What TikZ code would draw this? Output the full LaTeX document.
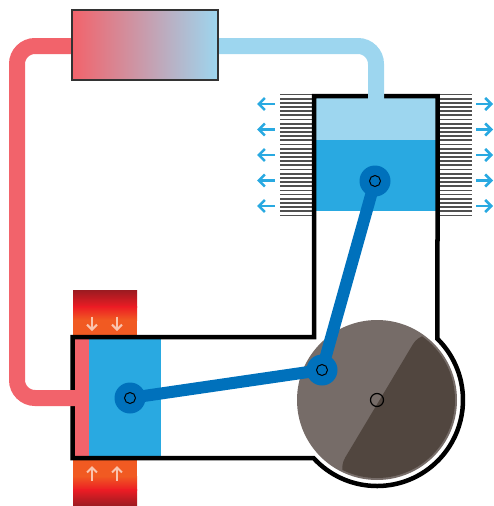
\documentclass[tikz,border=0pt]{standalone}
\usetikzlibrary{arrows.meta}
\definecolor{pipered}{HTML}{F2636B}
\definecolor{pipeblue}{HTML}{9DD6EF}
\definecolor{gasblue}{HTML}{29A9E1}
\definecolor{roddark}{HTML}{0071BC}
\definecolor{wheellight}{HTML}{766C68}
\definecolor{wheeldark}{HTML}{51463F}
\definecolor{fingray}{HTML}{505050}
\definecolor{heatdark}{HTML}{9B1B21}
\definecolor{heatred}{HTML}{EC1C24}
\definecolor{heatorange}{HTML}{F15A22}
\definecolor{heatarrow}{HTML}{FAC4AE}
\tikzset{
  wall/.style={line width=4.5pt, draw=black, line join=miter},
  pipe/.style={line width=16pt, rounded corners=18pt},
  fin/.style={line width=1.8pt, draw=fingray},
  coolarrow/.style={line width=2.5pt, draw=gasblue, -{Straight Barb[length=6pt,width=12pt]}},
  heatarrowstyle/.style={line width=2pt, draw=heatarrow, -{Straight Barb[length=5pt,width=10pt]}},
  rod/.style={line width=12pt, draw=roddark, line cap=round, line join=round},
  pinring/.style={fill=roddark},
  pinhole/.style={fill=roddark, draw=black, line width=1pt},
}
\begin{document}
\begin{tikzpicture}[x=1pt, y=-1pt]
\useasboundingbox (0,0) rectangle (493,506);

% pin positions
\coordinate (coldpin) at (375,181);
\coordinate (hotpin) at (130,398);
\coordinate (crank) at (322,370);
\coordinate (hub) at (377,400);

% heater blocks above and below the hot cylinder
\shade[top color=heatdark, bottom color=heatred] (73,290) rectangle (137,307);
\shade[top color=heatred, bottom color=heatorange] (73,306.5) rectangle (137,320);
\fill[heatorange] (73,319.5) rectangle (137,337);
\fill[heatorange] (73,458) rectangle (137,476.5);
\shade[top color=heatorange, bottom color=heatred] (73,476) rectangle (137,490);
\shade[top color=heatred, bottom color=heatdark] (73,489.5) rectangle (137,506);
\foreach \x in {92,117} {
  \draw[heatarrowstyle] (\x,316.5) -- (\x,331);
  \draw[heatarrowstyle] (\x,480.5) -- (\x,466);
}

% gas in the cold cylinder
\fill[pipeblue] (314,96) rectangle (437.5,140);
\fill[gasblue] (314,140) rectangle (437.5,211);

% gas and piston in the hot cylinder
\fill[pipered] (72.5,337) rectangle (89,458);
\fill[gasblue] (89,337) rectangle (161,458);

% cooling fins and heat arrows
\foreach \k in {0,...,29} {
  \draw[fin] (280,{94.5+4.17*\k}) -- (312,{94.5+4.17*\k});
  \draw[fin] (440,{94.5+4.17*\k}) -- (472,{94.5+4.17*\k});
}
\foreach \y in {104,129.5,155,180.5,206} {
  \draw[coolarrow] (275,\y) -- (257,\y);
  \draw[coolarrow] (476,\y) -- (493,\y);
}

% flywheel
\fill[wheellight] (hub) circle[radius=80];
\begin{scope}
  \clip (hub) circle[radius=78];
  \fill[wheeldark, rounded corners=20pt] (423.1,327.2) -- (508.9,378.5) -- (420.7,526.1) -- (334.9,474.8) -- cycle;
\end{scope}
\draw[line width=1.2pt] (hub) circle[radius=6.5];

% engine housing
\draw[wall] (368,96) -- (314,96) -- (314,337) -- (72.5,337) -- (72.5,458) -- (313.5,458)
  arc[start angle=137.6, end angle=-45.3, radius=86] -- (437.5,96) -- (384,96);

% pipes to the regenerator
\draw[pipe, pipered] (80,46) -- (17,46) -- (17,398) -- (76,398);
\draw[pipe, pipeblue] (210,46) -- (376,46) -- (376,100);

% regenerator
\draw[line width=1.5pt, draw=black!80, left color=pipered, right color=pipeblue] (72,10) rectangle (218,80);

% connecting rods and pins
\draw[rod] (hotpin) -- (crank) -- (coldpin);
\foreach \p in {hotpin, crank, coldpin} {
  \fill[pinring] (\p) circle[radius=15.5];
  \draw[pinhole] (\p) circle[radius=5.5];
}
\end{tikzpicture}
\end{document}
